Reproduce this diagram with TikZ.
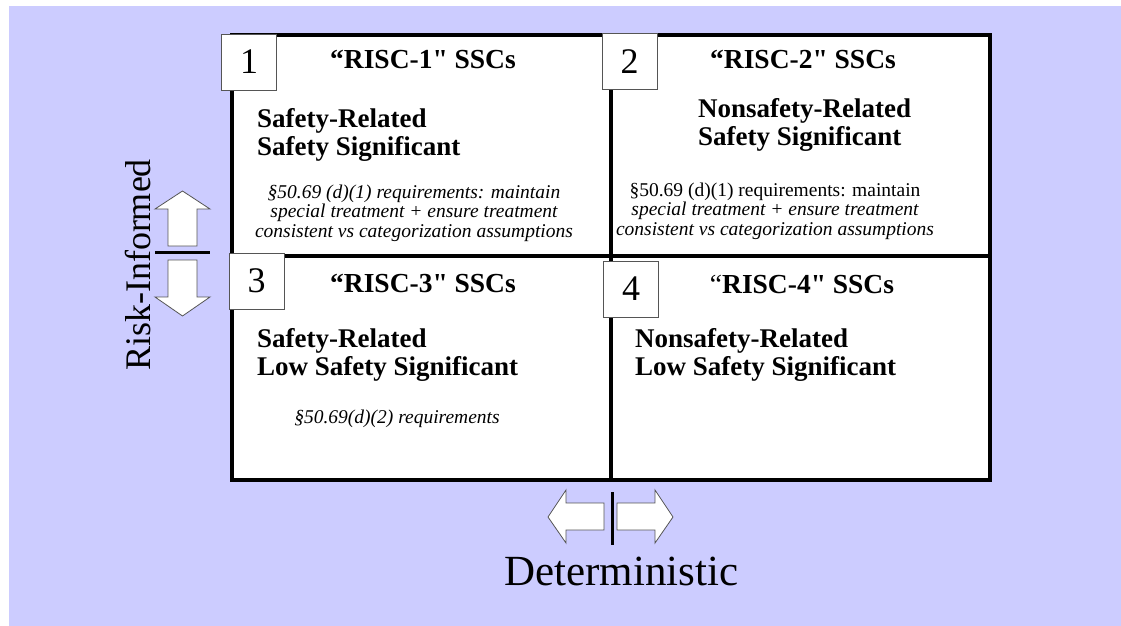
\documentclass[tikz,border=0pt]{standalone}
\usepackage{fontspec}
\setmainfont{Liberation Serif}
\newfontfamily\tnr{Liberation Serif}
\definecolor{lavender}{HTML}{CCCCFF}
\definecolor{edgegray}{HTML}{555555}
\begin{document}
\begin{tikzpicture}[x=1pt, y=-1pt,
  numbox/.style={draw=edgegray, fill=white, line width=0.8pt, minimum width=55pt, minimum height=56pt, inner sep=0pt, font=\fontsize{36}{36}\selectfont},
  title/.style={font=\tnr\bfseries\fontsize{27.5}{28}\selectfont, inner sep=0pt, anchor=base},
  cat/.style={font=\bfseries\fontsize{27}{28}\selectfont, align=left, inner sep=0pt, anchor=base west},
  req/.style={font=\itshape\fontsize{19.5}{19.5}\selectfont, align=center, inner sep=0pt, anchor=base},
  blockarrow/.style={draw=edgegray, fill=white, line width=0.8pt},
]
  % Background
  \useasboundingbox (0,0) rectangle (1121,626);
  \fill[white] (0,0) rectangle (1121,626);
  \fill[lavender] (9,6) rectangle (1121,626);

  % Grid
  \filldraw[fill=white, line width=4pt] (232,35) rectangle (990,480);
  \draw[line width=4pt] (611,35) -- (611,480);
  \draw[line width=4pt] (232,256) -- (990,256);

  % Numbers
  \node[numbox] (n1) at (249,62) {1};
  \node[numbox] (n2) at (629.5,61.5) {2};
  \node[numbox] (n3) at (256.5,281) {3};
  \node[numbox] (n4) at (631,289) {4};

  % Quadrant 1 (base = last line)
  \node[title] (t1) at (423,68) {“RISC-1" SSCs};
  \node[cat] (c1) at (257,155) {Safety-Related\\Safety Significant};
  \node[req] (r1) at (414,237) {§50.69 (d)(1) requirements: maintain\\special treatment + ensure treatment\\consistent vs categorization assumptions};

  % Quadrant 2
  \node[title] (t2) at (803,68) {“RISC-2" SSCs};
  \node[cat] (c2) at (698,145) {Nonsafety-Related\\Safety Significant};
  \node[req] (r2) at (775,235) {\upshape §50.69 (d)(1) requirements: maintain\\special treatment + ensure treatment\\consistent vs categorization assumptions};

  % Quadrant 3
  \node[title] (t3) at (423,292) {“RISC-3" SSCs};
  \node[cat] (c3) at (257,375) {Safety-Related\\Low Safety Significant};
  \node[req] (r3) at (397,423) {§50.69(d)(2) requirements};

  % Quadrant 4
  \node[title] (t4) at (802,293) {{\mdseries “}RISC-4" SSCs};
  \node[cat] (c4) at (635,375) {Nonsafety-Related\\Low Safety Significant};

  % Axis arrows
  \draw[blockarrow] (182.5,191) -- (210,209) -- (197,209) -- (197,246) -- (168,246) -- (168,209) -- (155,209) -- cycle;
  \draw[line width=3pt] (155,252) -- (210,252);
  \draw[blockarrow] (168,260) -- (197,260) -- (197,297) -- (210,297) -- (182.5,316) -- (155,297) -- (168,297) -- cycle;

  \draw[blockarrow] (548,517) -- (566,490) -- (566,503) -- (604,503) -- (604,530) -- (566,530) -- (566,543) -- cycle;
  \draw[line width=3pt] (612,492) -- (612,545);
  \draw[blockarrow] (617,503) -- (655,503) -- (655,490) -- (673,517) -- (655,543) -- (655,530) -- (617,530) -- cycle;

  % Axis labels
  \node[rotate=90, anchor=base, inner sep=0pt, font=\fontsize{36}{36}\selectfont] (risk) at (150,265) {Risk-Informed};
  \node[anchor=base, inner sep=0pt, font=\fontsize{43}{43}\selectfont] (det) at (621.5,585) {Deterministic};
\end{tikzpicture}
\end{document}
